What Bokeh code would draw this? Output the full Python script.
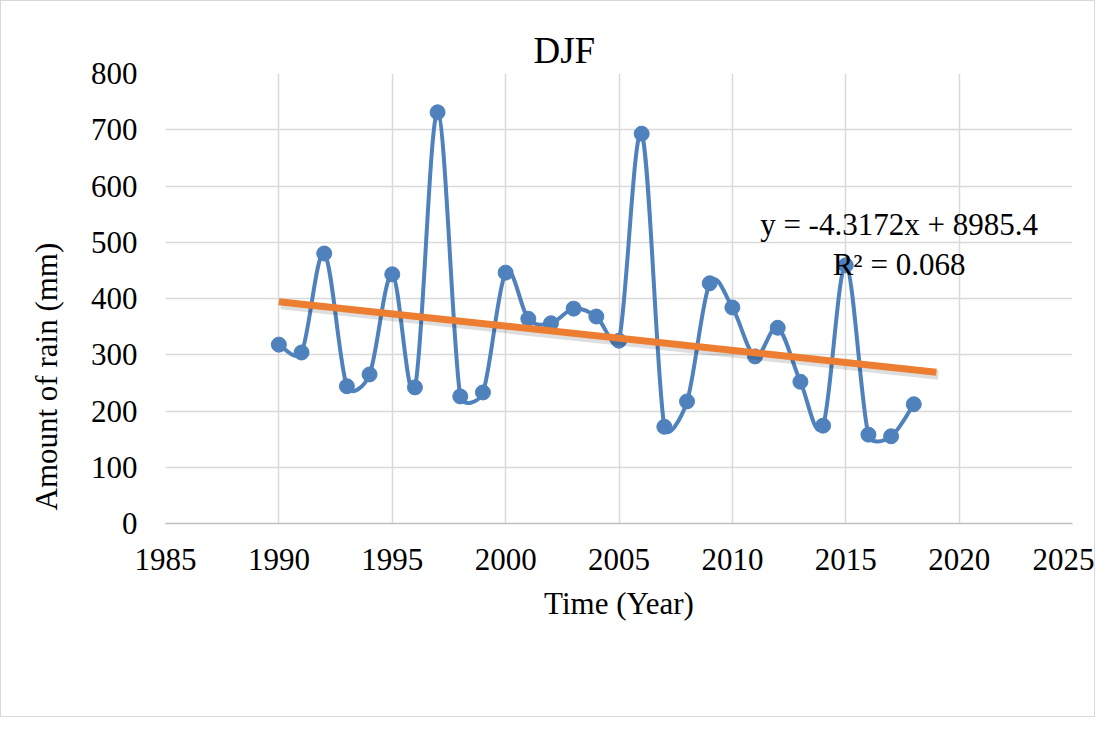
import math
from bokeh.plotting import figure
from bokeh.models import Range1d, FixedTicker, Label, Title
from bokeh.embed import file_html
from bokeh.resources import INLINE

years = list(range(1990, 2019))
rain = [318, 304, 480, 244, 265, 443, 242, 731, 226, 233, 446, 364, 356, 382, 368,
        325, 693, 172, 217, 427, 384, 297, 348, 252, 174, 459, 158, 155, 212]
trend_slope = -4.3172
trend_intercept = 8985.4
trend_x = [1990, 2019]
x_ticks = [1985, 1990, 1995, 2000, 2005, 2010, 2015, 2020, 2025]
y_ticks = [0, 100, 200, 300, 400, 500, 600, 700, 800]
title_text = "DJF"
x_title = "Time (Year)"
y_title = "Amount of rain (mm)"
eq_text = "y = -4.3172x + 8985.4"
r2_text = "R² = 0.068"

FONT = "Liberation Serif"
BLUE = "#4F81BD"
ORANGE = "#ED7D31"
GRID = "#D9D9D9"

X0, X1, Y0, Y1 = 1985, 2025, 0, 800
FRAME_W, FRAME_H = 907, 450
BL, BT = 164, 72
W, H = 1095, 717

p = figure(width=W, height=H, output_backend="svg", toolbar_location=None,
           x_range=Range1d(X0, X1), y_range=Range1d(Y0, Y1),
           min_border_left=BL, min_border_right=W - BL - FRAME_W,
           min_border_top=BT, min_border_bottom=H - BT - FRAME_H)
p.styles = {"border": "1px solid #D9D9D9"}
p.outline_line_color = None
p.background_fill_color = "white"
p.border_fill_color = "white"

p.add_layout(Title(text=title_text, text_font=FONT, text_font_size="37px",
                   text_font_style="normal", text_color="black", align="left",
                   offset=368, standoff=6), "above")

for ax in (p.xaxis, p.yaxis):
    ax.major_label_text_font = FONT
    ax.major_label_text_font_size = "31px"
    ax.major_label_text_color = "#000000"
    ax.major_tick_line_color = None
    ax.major_tick_out = 0
    ax.major_tick_in = 0
    ax.minor_tick_line_color = None
    ax.axis_label_text_font = FONT
    ax.axis_label_text_font_size = "31px"
    ax.axis_label_text_font_style = "normal"
    ax.axis_label_text_color = "#000000"

p.xaxis.ticker = FixedTicker(ticks=x_ticks)
p.yaxis.ticker = FixedTicker(ticks=y_ticks)
p.xaxis.axis_line_color = "#BFBFBF"
p.xaxis.axis_line_width = 1.5
p.yaxis.axis_line_color = None
p.xaxis.major_label_standoff = 25
p.yaxis.major_label_standoff = 28
p.xaxis.axis_label = x_title
p.xaxis.axis_label_standoff = 13

# y-axis title placed as a left-side title so it can sit lower, as in the original
p.add_layout(Title(text=y_title, text_font=FONT, text_font_size="31px",
                   text_font_style="normal", text_color="black", align="left",
                   offset=13, standoff=47), "left")

p.xgrid.ticker = FixedTicker(ticks=x_ticks)
p.ygrid.ticker = FixedTicker(ticks=y_ticks)
p.xgrid.grid_line_color = GRID
p.ygrid.grid_line_color = GRID
p.xgrid.grid_line_width = 1.5
p.ygrid.grid_line_width = 1.5

# Excel-style smoothed line: bezier segments whose tangents are clamped in screen space
sx = FRAME_W / (X1 - X0)
sy = FRAME_H / (Y1 - Y0)
n = len(years)
pts = [(years[i] * sx, rain[i] * sy) for i in range(n)]


def ctrl(pa, pb, pc, d12, sign):
    tx, ty = pc[0] - pa[0], pc[1] - pa[1]
    ln = math.hypot(tx, ty)
    f = 1.0 / 6.0
    if ln * f > d12 / 2.0 and ln > 0:
        f = d12 / 2.0 / ln
    return pb[0] + sign * tx * f, pb[1] + sign * ty * f


x0, y0, x1, y1, cx0, cy0, cx1, cy1 = [], [], [], [], [], [], [], []
for i in range(n - 1):
    p0 = pts[max(i - 1, 0)]
    p1 = pts[i]
    p2 = pts[i + 1]
    p3 = pts[min(i + 2, n - 1)]
    d12 = math.hypot(p2[0] - p1[0], p2[1] - p1[1])
    c1 = ctrl(p0, p1, p2, d12, 1)
    c2 = ctrl(p1, p2, p3, d12, -1)
    x0.append(years[i]); y0.append(rain[i])
    x1.append(years[i + 1]); y1.append(rain[i + 1])
    cx0.append(c1[0] / sx); cy0.append(c1[1] / sy)
    cx1.append(c2[0] / sx); cy1.append(c2[1] / sy)

p.bezier(x0=x0, y0=y0, x1=x1, y1=y1, cx0=cx0, cy0=cy0, cx1=cx1, cy1=cy1,
         line_color=BLUE, line_width=4)
p.scatter(years, rain, size=15, fill_color=BLUE, line_color=BLUE)

# trend line with soft shadow
trend_y = [trend_slope * x + trend_intercept for x in trend_x]
p.line([x + 2 / sx for x in trend_x], [y - 3 / sy for y in trend_y], line_color="black",
       line_alpha=0.13, line_width=9)
p.line(trend_x, trend_y, line_color=ORANGE, line_width=7)

p.add_layout(Label(x=2017.35, y=532, text=eq_text, text_font=FONT, text_font_size="31px",
                   text_align="center", text_baseline="middle", text_color="black"))
p.add_layout(Label(x=2017.35, y=461, text=r2_text, text_font=FONT, text_font_size="31px",
                   text_align="center", text_baseline="middle", text_color="black"))

open("out.html", "w").write(file_html(p, INLINE))
